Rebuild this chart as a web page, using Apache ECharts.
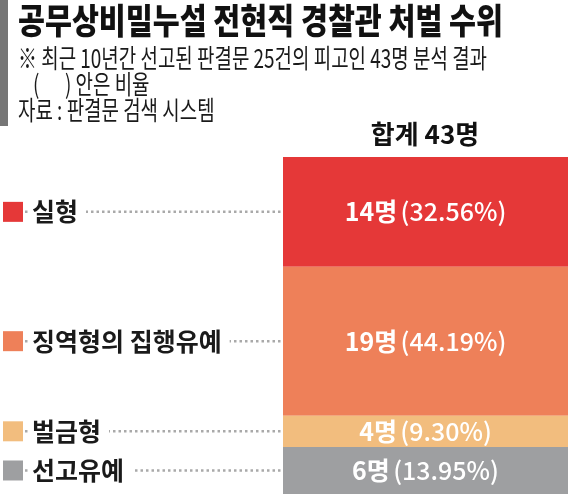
<!DOCTYPE html>
<html><head><meta charset="utf-8">
<script src="https://cdn.jsdelivr.net/npm/echarts@6/dist/echarts.min.js"></script>
<style>html,body{margin:0;padding:0;background:#fff}#c{width:570px;height:494px}</style>
</head><body><div id="c"></div>
<script>
const categories = ['실형', '징역형의 집행유예', '벌금형', '선고유예'];
const counts = [14, 19, 4, 6];
const percents = ['32.56', '44.19', '9.30', '13.95'];
const colors = ['#e53838', '#ee8059', '#f2bd7e', '#9e9fa1'];
const titleText = '공무상비밀누설 전현직 경찰관 처벌 수위';
const noteLines = ['※ 최근 10년간 선고된 판결문 25건의 피고인 43명 분석 결과', '(      ) 안은 비율', '자료 : 판결문 검색 시스템'];
const totalLabel = '합계 43명';

const FONT = "'Noto Sans CJK KR', 'Noto Sans', sans-serif";
const total = counts.reduce((a, b) => a + b, 0);
const mids = [];
let acc = 0;
counts.forEach(v => { mids.push(acc + v / 2); acc += v; });

const cv = document.createElement('canvas').getContext('2d');
function fitScale(text, font, target) {
  cv.font = font;
  const w = cv.measureText(text).width;
  return w > 0 ? target / w : 1;
}
function textEl(text, x, y, font, sx, color) {
  return {
    type: 'text', x: x, y: y, scaleX: sx, scaleY: 1,
    style: { text: text, font: font, fill: color, verticalAlign: 'middle', align: 'left' }
  };
}
const titleFont = '900 35px ' + FONT;
const noteFont = 'normal 26px ' + FONT;
const noteScale = fitScale(noteLines[0], noteFont, 469);

const chart = echarts.init(document.getElementById('c'), null, { renderer: 'canvas' });

const series = [];
categories.forEach((name, i) => {
  series.push({
    type: 'bar', name: name, stack: 'total', xAxisIndex: 0, yAxisIndex: 0,
    barWidth: '100%', data: [counts[i]],
    itemStyle: { color: colors[i] },
    label: {
      show: true, position: 'inside',
      formatter: () => '{b|' + counts[i] + '명} {n|(' + percents[i] + '%)}',
      rich: {
        b: { color: '#fff', fontSize: 25, fontWeight: 'bold', fontFamily: FONT },
        n: { color: '#fff', fontSize: 25, fontWeight: 500, fontFamily: FONT }
      }
    },
    silent: true
  });
});
categories.forEach((name, i) => {
  series.push({
    type: 'line', xAxisIndex: 1, yAxisIndex: 1, z: 1, silent: true,
    symbol: 'none', data: [[25, mids[i]], [283, mids[i]]],
    lineStyle: { color: '#a9a9a9', width: 2.5, type: [2.5, 3] }
  });
});
series.push({
  type: 'scatter', xAxisIndex: 1, yAxisIndex: 1, z: 5, silent: true,
  symbol: 'rect', symbolSize: 20,
  data: categories.map((name, i) => ({ value: [13, mids[i]], name: name, itemStyle: { color: colors[i], opacity: 1 } })),
  label: {
    show: true, position: 'right', distance: 5, formatter: p => p.name,
    fontSize: 25, fontWeight: 'bold', color: '#1a1a1a', fontFamily: FONT,
    backgroundColor: '#fff', padding: [2, 8, 2, 4]
  }
});

chart.setOption({
  animation: false,
  backgroundColor: '#fff',
  grid: [
    { left: 283, right: 2, top: 157, bottom: 0 },
    { left: 0, width: 283, top: 157, bottom: 0 }
  ],
  xAxis: [
    { type: 'category', gridIndex: 0, data: [totalLabel], show: false },
    { type: 'value', gridIndex: 1, min: 0, max: 283, show: false }
  ],
  yAxis: [
    { type: 'value', gridIndex: 0, min: 0, max: total, inverse: true, show: false },
    { type: 'value', gridIndex: 1, min: 0, max: total, inverse: true, show: false }
  ],
  graphic: [
    { type: 'rect', shape: { x: 0, y: 0, width: 8, height: 126 }, style: { fill: '#767676' } },
    textEl(titleText, 18, 21, titleFont, fitScale(titleText, titleFont, 485), '#111'),
    textEl(noteLines[0], 18, 58, noteFont, noteScale, '#1a1a1a'),
    textEl(noteLines[1], 33, 84, noteFont, noteScale, '#1a1a1a'),
    textEl(noteLines[2], 18, 110, noteFont, noteScale, '#1a1a1a'),
    { type: 'text', x: 425, y: 134, style: { text: totalLabel, font: 'bold 26px ' + FONT, fill: '#111', align: 'center', verticalAlign: 'middle' } }
  ],
  series: series
});
</script>
</body></html>
